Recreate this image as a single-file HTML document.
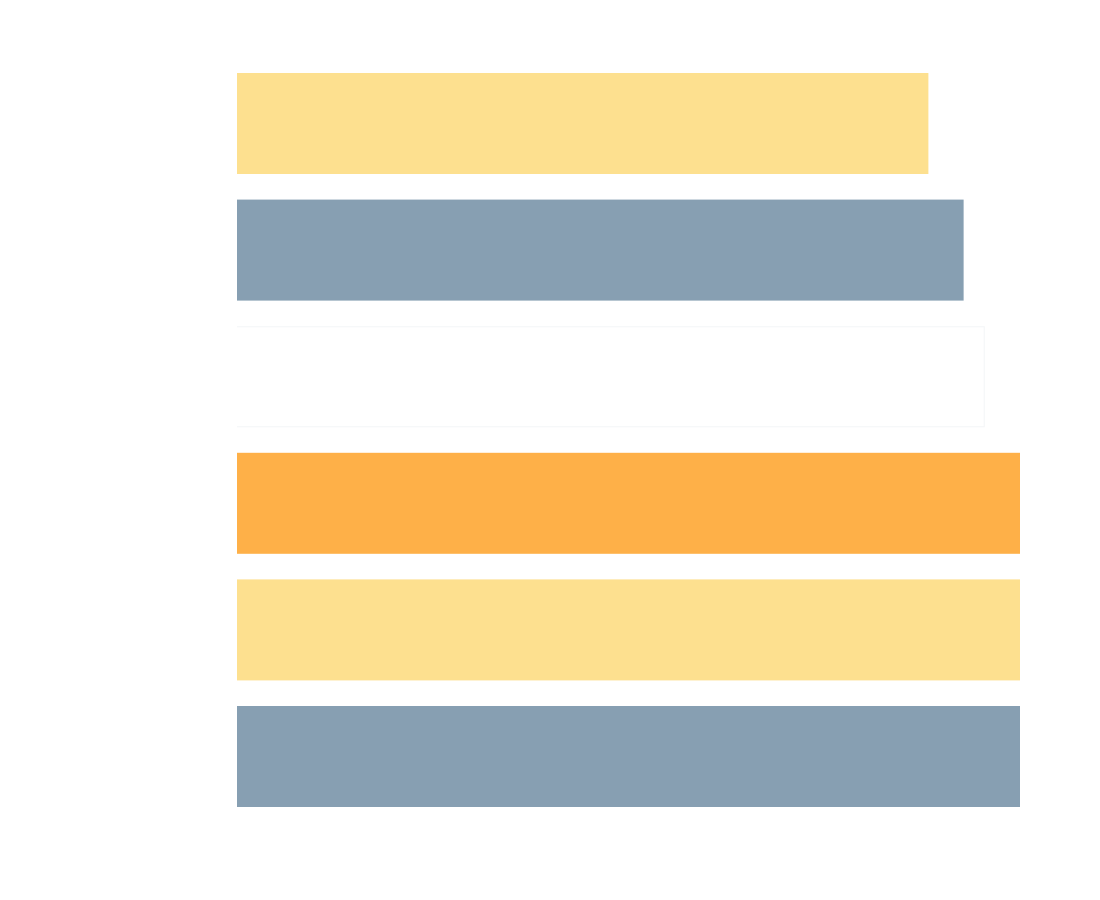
<!DOCTYPE html>
<html><head><meta charset="utf-8"><style>
html,body{margin:0;padding:0;background:#fff;width:1100px;height:900px;overflow:hidden;font-family:"Liberation Sans",sans-serif}
</style></head><body>
<svg id="chart" width="1100" height="900" xmlns="http://www.w3.org/2000/svg"></svg>
<script>
const categories = ["A","B","C","D","E","F"];
const values = [88.3, 92.8, 95.5, 100, 100, 100];
const colors = ["#fde08f","#879fb2","#ffffff","#feb048","#fde08f","#879fb2"];
const svg = document.getElementById('chart');
const NS = 'http://www.w3.org/2000/svg';
const x0 = 237, x1 = 1020, top0 = 73, step = 126.6, bh = 101;
function xScale(v){ return x0 + (v/100)*(x1-x0); }
function yScale(i){ return top0 + i*step; }
categories.forEach((c,i)=>{
  const r = document.createElementNS(NS,'rect');
  r.setAttribute('x', x0);
  r.setAttribute('y', yScale(i));
  r.setAttribute('width', xScale(values[i]) - x0);
  r.setAttribute('height', bh);
  r.setAttribute('fill', colors[i]);
  
  
  svg.appendChild(r);
  if (colors[i] === "#ffffff") {
    const p = document.createElementNS(NS,'path');
    const xe = xScale(values[i]), yt = yScale(i), yb = yScale(i) + bh;
    p.setAttribute('d', 'M' + x0 + ' ' + (yt+0.5) + 'H' + (xe-0.5) + 'V' + (yb-0.5) + 'H' + x0);
    p.setAttribute('fill', 'none');
    p.setAttribute('stroke', '#f4f5f7');
    p.setAttribute('stroke-width', '1');
    
    
    svg.appendChild(p);
  }
});
</script>
</body></html>
